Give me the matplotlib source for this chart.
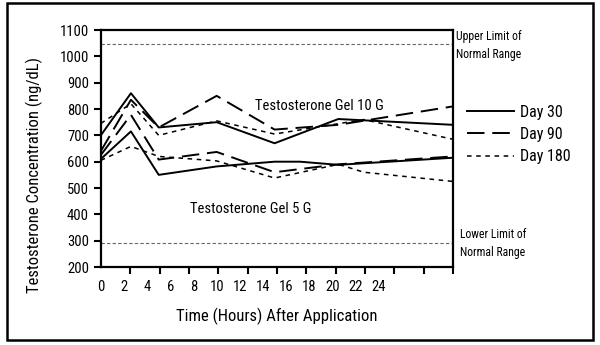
import matplotlib
matplotlib.use("Agg")
import matplotlib.pyplot as plt
from matplotlib.patches import Rectangle
from matplotlib import font_manager
import numpy as np

# condensed face if the system has one
names = {f.name for f in font_manager.fontManager.ttflist}
cond = [n for n in ['Liberation Sans Narrow', 'DejaVu Sans Condensed', 'Roboto Condensed',
                    'Open Sans Condensed'] if n in names]
plt.rcParams['font.family'] = cond + ['DejaVu Sans']
plt.rcParams['font.stretch'] = 'condensed'

# hours as they sit on the drawn axis
x_main = [0, 2.6, 5, 10, 15, 20.5, 30.4]
x_180_10 = [0, 2.6, 5, 10, 15, 22.7, 30.4]
x_30_5 = [0, 2.6, 5, 10, 15, 17.2, 20.5, 30.4]
x_180_5 = [0, 2.6, 5, 10, 15, 20.5, 22.7, 30.4]

gel10_day30 = [700, 860, 730, 750, 670, 762, 740]
gel10_day90 = [640, 835, 730, 850, 722, 740, 810]
gel10_day180 = [745, 820, 700, 755, 705, 760, 685]

gel5_day30 = [610, 715, 550, 582, 600, 600, 588, 615]
gel5_day90 = [625, 778, 608, 637, 560, 590, 620]
gel5_day180 = [605, 658, 620, 603, 538, 590, 560, 525]

upper_limit = 1048
lower_limit = 292
tick_labels = [0, 2, 4, 6, 8, 10, 12, 14, 16, 18, 20, 22, 24]
x_end = 30.4

fig = plt.figure(figsize=(6, 3.45), dpi=100)
ax = fig.add_axes([0.168, 0.226, 0.587, 0.687])

solid = dict(color='black', lw=1.4, linestyle='-')
longd = dict(color='black', lw=1.4, linestyle=(0, (9, 4)))
shortd = dict(color='black', lw=1.1, linestyle=(0, (3, 3)))

ax.plot(x_main, gel10_day30, label='Day 30', **solid)
ax.plot(x_main, gel10_day90, label='Day 90', **longd)
ax.plot(x_180_10, gel10_day180, label='Day 180', **shortd)
ax.plot(x_30_5, gel5_day30, **solid)
ax.plot(x_main, gel5_day90, **longd)
ax.plot(x_180_5, gel5_day180, **shortd)

ax.axhline(upper_limit, color='#666666', lw=0.8, linestyle=(0, (3, 2)))
ax.axhline(lower_limit, color='#666666', lw=0.8, linestyle=(0, (3, 2)))

ax.set_xlim(0, x_end)
ax.set_ylim(200, 1100)
ax.set_yticks(range(200, 1101, 100))
ax.set_xticks(tick_labels)
ax.set_xticklabels([str(t) for t in tick_labels], fontsize=10.5)
ax.tick_params(axis='x', which='major', length=0, pad=9)
ax.set_xticks(np.linspace(0, x_end, 13), minor=True)
ax.tick_params(axis='x', which='minor', length=5, width=1.5, direction='out')
ax.tick_params(axis='y', length=5, width=1.5, labelsize=10.5)
for s in ax.spines.values():
    s.set_linewidth(1.6)

ax.set_xlabel('Time (Hours) After Application', fontsize=12, labelpad=10)
ax.set_ylabel('Testosterone Concentration (ng/dL)', fontsize=12)
ax.yaxis.set_label_coords(-0.165, 0.39)

ax.text(13.3, 810, 'Testosterone Gel 10 G', fontsize=10.5, va='center')
ax.text(7.7, 422, 'Testosterone Gel 5 G', fontsize=10.5, va='center')
ax.text(30.7, 1040, 'Upper Limit of\nNormal Range', fontsize=8.5, va='center',
        linespacing=1.5, clip_on=False)
ax.text(31.0, 290, 'Lower Limit of\nNormal Range', fontsize=8.5, va='center',
        linespacing=1.5, clip_on=False)

ax.legend(loc='upper left', bbox_to_anchor=(1.0, 0.745), frameon=False,
          handlelength=2.9, fontsize=11.5, labelspacing=0.45, handletextpad=0.4)

fig.patches.append(Rectangle((0.012, 0.015), 0.976, 0.975, transform=fig.transFigure,
                             fill=False, edgecolor='black', lw=1.8))

fig.savefig('out.png', dpi=100)
